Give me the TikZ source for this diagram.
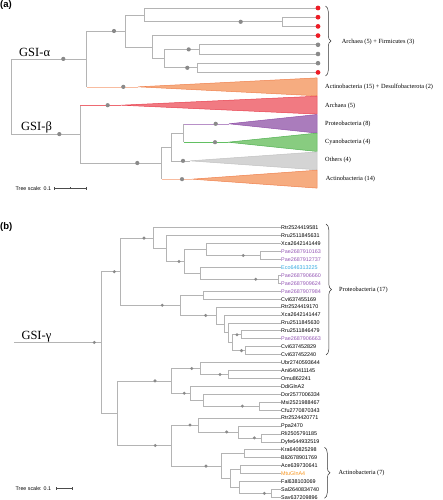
\documentclass[tikz,border=0pt]{standalone}
\usepackage{fontspec}
\setmainfont{Liberation Serif}
\newfontfamily\arialf{Liberation Sans}
\usetikzlibrary{decorations.pathreplacing,calc}
\definecolor{lg}{HTML}{B4B4B4}
\definecolor{dg}{HTML}{8A8A8A}
\definecolor{rdc}{HTML}{EE1C25}
\definecolor{orF}{HTML}{F6AC80}
\definecolor{orA}{HTML}{F0804C}
\definecolor{orL}{HTML}{F8BCA0}
\definecolor{arF}{HTML}{F17A82}
\definecolor{arA}{HTML}{E8404E}
\definecolor{arL}{HTML}{EE6A72}
\definecolor{puF}{HTML}{AA7CBC}
\definecolor{puA}{HTML}{9050A8}
\definecolor{puL}{HTML}{B890C8}
\definecolor{gnF}{HTML}{88CC80}
\definecolor{gnA}{HTML}{50B050}
\definecolor{gnL}{HTML}{62C062}
\definecolor{grF}{HTML}{D4D4D4}
\definecolor{grA}{HTML}{C2C2C2}
\definecolor{puT}{HTML}{9558B5}
\definecolor{cyT}{HTML}{33A8E0}
\definecolor{orT}{HTML}{F7941D}
\newcommand\cedge[3]{\draw[br] (#1) -- (#1 |- #2); \draw[br,draw=#3] (#1 |- #2) -- (#2);}
\begin{document}
\begin{tikzpicture}[x=1pt,y=-1pt,
  br/.style={draw=lg,line width=0.6pt},
  gdot/.style={circle,fill=dg,inner sep=0pt,minimum size=4.2pt},
  bdot/.style={circle,fill=dg,inner sep=0pt,minimum size=3.3pt},
  rdot/.style={circle,fill=rdc,inner sep=0pt,minimum size=4.8pt},
  ldot/.style={circle,fill=dg,inner sep=0pt,minimum size=4.6pt},
  tri/.style={line width=0.5pt,line join=round},
  leaf/.style={anchor=west,inner sep=0.5pt,font=\arialf\fontsize{5.4}{6}\selectfont},
  clade/.style={anchor=west,inner sep=0pt,font=\fontsize{6.3}{7}\selectfont},
  gsi/.style={anchor=base west,inner sep=0pt,font=\fontsize{12.5}{14}\selectfont},
  panel/.style={anchor=north west,inner sep=0pt,font=\arialf\bfseries\fontsize{9.5}{11}\selectfont},
  scl/.style={anchor=west,inner sep=0pt,font=\arialf\fontsize{5.3}{6}\selectfont},
  sbar/.style={draw=black!70,line width=0.5pt},
  bracebox/.style={decorate,decoration={brace,amplitude=5.5pt},draw=black!80,line width=0.5pt}
]
\useasboundingbox (0,0) rectangle (443,500);

% ================= panel (a) =================
\node[panel] (pa) at (0,0.5) {(a)};
\coordinate (a1) at (318,8);
\coordinate (a2) at (318,17.2);
\coordinate (a3) at (318,26.4);
\coordinate (a4) at (318,35.6);
\coordinate (a5) at (318,44.8);
\coordinate (a6) at (318,54);
\coordinate (a7) at (318,63.2);
\coordinate (a8) at (318,72.4);
\coordinate (aroot) at (11,96.5);
\coordinate (aal) at (86.7,58.9);
\coordinate (a18) at (125.7,31);
\coordinate (a123) at (144,14.9);
\coordinate (a23) at (282.3,21.8);
\coordinate (a48) at (152.7,47.1);
\coordinate (a58) at (164,58.6);
\coordinate (a56) at (199.3,49.4);
\coordinate (a78) at (197.7,67.8);
\coordinate (aact) at (138,86.85);
\coordinate (abe) at (80,134.1);
\coordinate (aarc) at (121,105.2);
\coordinate (abl) at (161.7,163);
\coordinate (ab1) at (171,146.9);
\coordinate (ab2) at (183.7,133);
\coordinate (apro) at (229,123.8);
\coordinate (acya) at (228,142.2);
\coordinate (aoth) at (190,160.85);
\coordinate (aac2) at (192,179.15);

% triangles
\filldraw[tri,fill=orF,draw=orA] (aact) -- (317,77.9) -- (317,95.8) -- cycle;
\filldraw[tri,fill=arF,draw=arA] (aarc) -- (317,96.2) -- (317,114.1) -- cycle;
\filldraw[tri,fill=puF,draw=puA] (apro) -- (317,114.5) -- (317,133.1) -- cycle;
\filldraw[tri,fill=gnF,draw=gnA] (acya) -- (317,133.1) -- (317,151.5) -- cycle;
\filldraw[tri,fill=grF,draw=grA] (aoth) -- (317,151.9) -- (317,169.8) -- cycle;
\filldraw[tri,fill=orF,draw=orA] (aac2) -- (317,170.2) -- (317,188.1) -- cycle;

% branches
\draw[br] (aroot) |- (aal);
\draw[br] (aroot) |- (abe);
\draw[br] (aal) |- (a18);
\cedge{aal}{aact}{orL}
\draw[br] (a18) |- (a123);
\draw[br] (a18) |- (a48);
\draw[br] (a123) |- (a1);
\draw[br] (a123) |- (a23);
\draw[br] (a23) |- (a2);
\draw[br] (a23) |- (a3);
\draw[br] (a48) |- (a4);
\draw[br] (a48) |- (a58);
\draw[br] (a58) |- (a56);
\draw[br] (a58) |- (a78);
\draw[br] (a56) |- (a5);
\draw[br] (a56) |- (a6);
\draw[br] (a78) |- (a7);
\draw[br] (a78) |- (a8);
\cedge{abe}{aarc}{arL}
\draw[br] (abe) |- (abl);
\draw[br] (abl) |- (ab1);
\cedge{abl}{aac2}{orL}
\draw[br] (ab1) |- (ab2);
\draw[br] (ab1) |- (aoth);
\cedge{ab2}{apro}{puL}
\cedge{ab2}{acya}{gnL}

% dots
\node[rdot] (d1) at (a1) {};
\node[rdot] (d2) at (a2) {};
\node[rdot] (d3) at (a3) {};
\node[rdot] (d4) at (a4) {};
\node[ldot] (d5) at (a5) {};
\node[ldot] (d6) at (a6) {};
\node[ldot] (d7) at (a7) {};
\node[rdot] (d8) at (a8) {};
\node[gdot] (ga1) at (63.3,58.9) {};
\node[gdot] (ga2) at (114,31) {};
\node[gdot] (ga3) at (240.7,21.8) {};
\node[gdot] (ga4) at (188.7,49.4) {};
\node[gdot] (ga5) at (187.3,67.8) {};
\node[gdot] (ga6) at (123.3,86.85) {};
\node[gdot] (ga7) at (59.3,134.1) {};
\node[gdot] (ga8) at (107.7,105.2) {};
\node[gdot] (ga9) at (137.3,163) {};
\node[gdot] (ga10) at (215.7,123.8) {};
\node[gdot] (ga11) at (215,142.2) {};
\node[gdot] (ga12) at (183,160.85) {};
\node[gdot] (ga13) at (182,179.15) {};

% labels
\node[gsi] (galpha) at (19,56.7) {GSI-α};
\node[gsi] (gbeta) at (21,131) {GSI-β};
\draw[bracebox] (325.5,6) -- (325.5,76);
\node[clade] (c1) at (341.7,41.7) {Archaea (5) + Firmicutes (3)};
\node[clade] (c2) at (325,86.9) {Actinobacteria (15) + Desulfobacterota (2)};
\node[clade] (c3) at (325,106) {Archaea (5)};
\node[clade] (c4) at (325,123.5) {Proteobacteria (8)};
\node[clade] (c5) at (325,141.8) {Cyanobacteria (4)};
\node[clade] (c6) at (325,160.3) {Others (4)};
\node[clade] (c7) at (325.7,179.3) {Actinobacteria (14)};

% scale (a)
\node[scl] (sa) at (15.5,188.2) {Tree scale: 0.1};
\coordinate (sa1) at (54.3,188.2);
\coordinate (sa2) at (86.7,188.2);
\coordinate (sa3) at (70.5,188.2);
\draw[sbar] (sa1) -- (sa2);
\draw[sbar] ($(sa1)+(0,-1.3)$) -- ($(sa1)+(0,1.3)$);
\draw[sbar] ($(sa2)+(0,-1.3)$) -- ($(sa2)+(0,1.3)$);
\draw[sbar] ($(sa3)+(0,-1)$) -- ($(sa3)+(0,1)$);

% ================= panel (b) =================
\node[panel] (pb) at (0,222) {(b)};
\node[leaf] (L1) at (280.5,227.70) {Rtr2524419581};
\node[leaf] (L2) at (280.5,235.63) {Rru2511845631};
\node[leaf] (L3) at (280.5,243.56) {Xca2642141449};
\node[leaf,text=puT] (L4) at (280.5,251.49) {Pae2687910163};
\node[leaf,text=puT] (L5) at (280.5,259.42) {Pae2687912737};
\node[leaf,text=cyT] (L6) at (280.5,267.35) {Eco646313225};
\node[leaf,text=puT] (L7) at (280.5,275.28) {Pae2687906660};
\node[leaf,text=puT] (L8) at (280.5,283.21) {Pae2687909624};
\node[leaf,text=puT] (L9) at (280.5,291.14) {Pae2687907984};
\node[leaf] (L10) at (280.5,299.07) {Cvi637455169};
\node[leaf] (L11) at (280.5,307.00) {Rtr2524419170};
\node[leaf] (L12) at (280.5,314.93) {Xca2642141447};
\node[leaf] (L13) at (280.5,322.86) {Rru2511845630};
\node[leaf] (L14) at (280.5,330.79) {Rru2511846479};
\node[leaf,text=puT] (L15) at (280.5,338.72) {Pae2687906663};
\node[leaf] (L16) at (280.5,346.65) {Cvi637452829};
\node[leaf] (L17) at (280.5,354.58) {Cvi637452240};
\node[leaf] (L18) at (280.5,362.51) {Ubr2740593644};
\node[leaf] (L19) at (280.5,370.44) {Ani640411145};
\node[leaf] (L20) at (280.5,378.37) {Omu862241};
\node[leaf] (L21) at (280.5,386.30) {DdiGlnA2};
\node[leaf] (L22) at (280.5,394.23) {Dor2577006334};
\node[leaf] (L23) at (280.5,402.16) {Msi2521988467};
\node[leaf] (L24) at (280.5,410.09) {Cfu2770870343};
\node[leaf] (L25) at (280.5,418.02) {Rtr2524420771};
\node[leaf] (L26) at (280.5,425.95) {Ppa2470};
\node[leaf] (L27) at (280.5,433.88) {Rli2505791185};
\node[leaf] (L28) at (280.5,441.81) {Dyfe644932519};
\node[leaf] (L29) at (280.5,449.74) {Kra640825298};
\node[leaf] (L30) at (280.5,457.67) {Bli2678901769};
\node[leaf] (L31) at (280.5,465.60) {Ace639730641};
\node[leaf,text=orT] (L32) at (280.5,473.53) {MtuGlnA4};
\node[leaf] (L33) at (280.5,481.46) {Fal638103069};
\node[leaf] (L34) at (280.5,489.39) {Sal2640834740};
\node[leaf] (L35) at (280.5,497.32) {Sav637209896};

\coordinate (b45) at (260,255.46);
\coordinate (b345) at (206.7,249.51);
\coordinate (b78) at (278,279.25);
\coordinate (b678) at (200.7,273.30);
\coordinate (b38) at (184.3,261.41);
\coordinate (b28) at (166.7,248.52);
\coordinate (b18) at (153.3,238.11);
\coordinate (b910) at (203.3,295.10);
\coordinate (b1415) at (241,334.76);
\coordinate (b1617) at (245,350.62);
\coordinate (bD) at (232.5,342.69);
\coordinate (bC) at (228.5,332.77);
\coordinate (bB) at (224,323.85);
\coordinate (bA) at (216.7,315.43);
\coordinate (b917) at (180.7,305.26);
\coordinate (bProt) at (120,271.69);
\coordinate (b1920) at (228.3,374.40);
\coordinate (bG) at (200,368.46);
\coordinate (bJ) at (259.5,406.13);
\coordinate (bI) at (203.3,400.18);
\coordinate (bH) at (190,393.24);
\coordinate (bF) at (171.5,380.85);
\coordinate (bN) at (261.7,437.85);
\coordinate (bM) at (238.5,431.90);
\coordinate (bL) at (198.3,424.96);
\coordinate (bP) at (244,453.70);
\coordinate (bR) at (240.5,469.57);
\coordinate (bT) at (271.7,493.36);
\coordinate (bS) at (239.3,487.41);
\coordinate (bQ) at (230.5,478.49);
\coordinate (bO) at (221.7,466.10);
\coordinate (bK) at (171.5,445.53);
\coordinate (bE) at (117.3,413.19);
\coordinate (bRoot) at (101.5,342.44);
\coordinate (bStem) at (14,342.44);

\draw[br] (b45) |- (L4.west);
\draw[br] (b45) |- (L5.west);
\draw[br] (b345) |- (L3.west);
\draw[br] (b345) |- (b45);
\draw[br] (b78) |- (L7.west);
\draw[br] (b78) |- (L8.west);
\draw[br] (b678) |- (L6.west);
\draw[br] (b678) |- (b78);
\draw[br] (b38) |- (b345);
\draw[br] (b38) |- (b678);
\draw[br] (b28) |- (L2.west);
\draw[br] (b28) |- (b38);
\draw[br] (b18) |- (L1.west);
\draw[br] (b18) |- (b28);
\draw[br] (b910) |- (L9.west);
\draw[br] (b910) |- (L10.west);
\draw[br] (b1415) |- (L14.west);
\draw[br] (b1415) |- (L15.west);
\draw[br] (b1617) |- (L16.west);
\draw[br] (b1617) |- (L17.west);
\draw[br] (bD) |- (b1415);
\draw[br] (bD) |- (b1617);
\draw[br] (bC) |- (L13.west);
\draw[br] (bC) |- (bD);
\draw[br] (bB) |- (L12.west);
\draw[br] (bB) |- (bC);
\draw[br] (bA) |- (L11.west);
\draw[br] (bA) |- (bB);
\draw[br] (b917) |- (b910);
\draw[br] (b917) |- (bA);
\draw[br] (bProt) |- (b18);
\draw[br] (bProt) |- (b917);
\draw[br] (b1920) |- (L19.west);
\draw[br] (b1920) |- (L20.west);
\draw[br] (bG) |- (L18.west);
\draw[br] (bG) |- (b1920);
\draw[br] (bJ) |- (L23.west);
\draw[br] (bJ) |- (L24.west);
\draw[br] (bI) |- (L22.west);
\draw[br] (bI) |- (bJ);
\draw[br] (bH) |- (L21.west);
\draw[br] (bH) |- (bI);
\draw[br] (bF) |- (bG);
\draw[br] (bF) |- (bH);
\draw[br] (bN) |- (L27.west);
\draw[br] (bN) |- (L28.west);
\draw[br] (bM) |- (L26.west);
\draw[br] (bM) |- (bN);
\draw[br] (bL) |- (L25.west);
\draw[br] (bL) |- (bM);
\draw[br] (bP) |- (L29.west);
\draw[br] (bP) |- (L30.west);
\draw[br] (bR) |- (L31.west);
\draw[br] (bR) |- (L32.west);
\draw[br] (bT) |- (L34.west);
\draw[br] (bT) |- (L35.west);
\draw[br] (bS) |- (L33.west);
\draw[br] (bS) |- (bT);
\draw[br] (bQ) |- (bR);
\draw[br] (bQ) |- (bS);
\draw[br] (bO) |- (bP);
\draw[br] (bO) |- (bQ);
\draw[br] (bK) |- (bL);
\draw[br] (bK) |- (bO);
\draw[br] (bE) |- (bF);
\draw[br] (bE) |- (bK);
\draw[br] (bRoot) |- (bProt);
\draw[br] (bRoot) |- (bE);
\draw[br] (bStem) -- (bRoot);

\node[bdot] (e1) at (94.3,342.44) {};
\node[bdot] (e2) at (114.3,271.69) {};
\node[bdot] (e3) at (144,238.11) {};
\node[bdot] (e4) at (179,261.41) {};
\node[bdot] (e5) at (243.3,255.46) {};
\node[bdot] (e6) at (255.7,279.25) {};
\node[bdot] (e7) at (162.3,305.26) {};
\node[bdot] (e8) at (205.7,315.43) {};
\node[bdot] (e9) at (237,334.76) {};
\node[bdot] (e10) at (241.5,350.62) {};
\node[bdot] (e11) at (155,380.85) {};
\node[bdot] (e12) at (191.7,368.46) {};
\node[bdot] (e13) at (220,374.40) {};
\node[bdot] (e14) at (184.3,393.24) {};
\node[bdot] (e15) at (242.3,406.13) {};
\node[bdot] (e16) at (155.3,445.53) {};
\node[bdot] (e17) at (190,424.96) {};
\node[bdot] (e18) at (226.7,431.90) {};
\node[bdot] (e19) at (254.3,437.85) {};
\node[bdot] (e20) at (206,466.10) {};
\node[bdot] (e21) at (264.3,493.36) {};

\node[gsi] (ggamma) at (21.3,339) {GSI-γ};
\draw[bracebox] (326,224) -- (326,355);
\node[clade] (c8) at (339,290) {Proteobacteria (17)};
\draw[bracebox] (324.5,447.3) -- (324.5,498.3);
\node[clade] (c9) at (338.3,472.8) {Actinobacteria (7)};

% scale (b)
\node[scl] (sb) at (15.5,488.7) {Tree scale: 0.1};
\coordinate (sb1) at (56.7,488.7);
\coordinate (sb2) at (72.3,488.7);
\draw[sbar] (sb1) -- (sb2);
\draw[sbar] ($(sb1)+(0,-1.3)$) -- ($(sb1)+(0,1.3)$);
\draw[sbar] ($(sb2)+(0,-1.3)$) -- ($(sb2)+(0,1.3)$);
\end{tikzpicture}
\end{document}
